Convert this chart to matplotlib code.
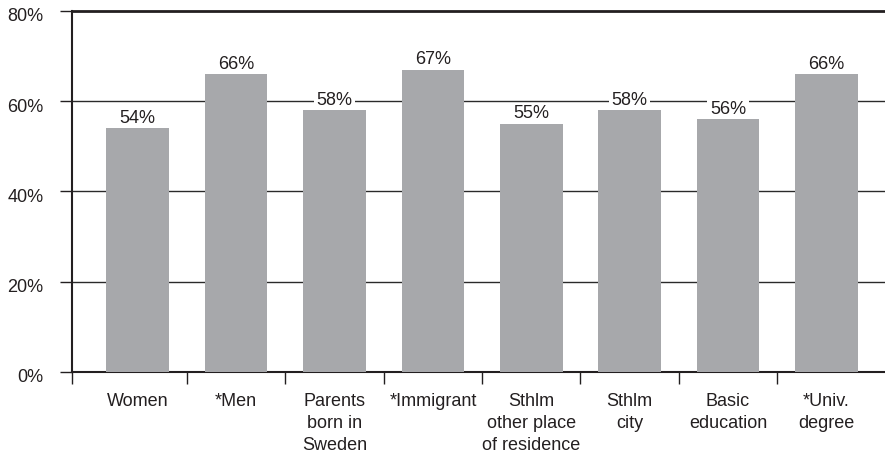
import matplotlib
matplotlib.use('Agg')
import numpy as np
from matplotlib import pyplot as plt
from matplotlib.transforms import ScaledTranslation

categories = ['Women', '*Men', 'Parents\nborn in\nSweden', '*Immigrant',
              'Sthlm\nother place\nof residence', 'Sthlm\ncity',
              'Basic\neducation', '*Univ.\ndegree']
shares = [54, 66, 58, 67, 55, 58, 56, 66]
y_ticks = [0, 20, 40, 60, 80]

INK = '#231f20'
plt.rcParams['font.family'] = ['Liberation Sans', 'DejaVu Sans']
plt.rcParams['font.size'] = 13
plt.rcParams['text.color'] = INK
plt.rcParams['xtick.color'] = INK
plt.rcParams['ytick.color'] = INK


def main():
    fig = plt.figure(figsize=(8.85, 4.54), dpi=100)
    ax = fig.add_axes([0.081, 0.181, 0.919, 0.795])

    x = np.arange(len(categories))
    ax.bar(x, shares, width=0.637, color='#a7a8ab', zorder=3)

    for xi, v in zip(x, shares):
        ax.annotate(f'{v}%', (xi, v), xytext=(0, 3.8), textcoords='offset points',
                    ha='center', va='baseline', zorder=2.5,
                    bbox=dict(boxstyle='square,pad=0.15', fc='white', ec='none'))

    ax.set_xlim(-0.672, 7.596)
    ax.set_ylim(0, 80)

    for y in y_ticks[1:-1]:
        ax.axhline(y, color='#2a2a2a', lw=1.0, zorder=1)

    ax.set_yticks(y_ticks)
    ax.set_yticklabels([f'{t}%' for t in y_ticks])
    ax.tick_params(axis='y', direction='out', length=8.4, width=1.0, pad=12)
    shift = ScaledTranslation(0, -4 / 100, fig.dpi_scale_trans)
    for lab in ax.get_yticklabels():
        lab.set_transform(lab.get_transform() + shift)

    ax.set_xticks(x)
    ax.set_xticklabels(categories, linespacing=1.4)
    ax.tick_params(axis='x', which='major', length=0, pad=15)
    ax.set_xticks([-0.672] + list(x[:-1] + 0.5), minor=True)
    ax.tick_params(axis='x', which='minor', direction='out', length=8.6, width=1.0)

    ax.spines['right'].set_visible(False)
    for side in ('top', 'left', 'bottom'):
        ax.spines[side].set_color(INK)
    ax.spines['top'].set_linewidth(2.0)
    ax.spines['left'].set_linewidth(1.5)
    ax.spines['bottom'].set_linewidth(1.5)

    fig.savefig('out.png', dpi=100)


if __name__ == '__main__':
    main()
